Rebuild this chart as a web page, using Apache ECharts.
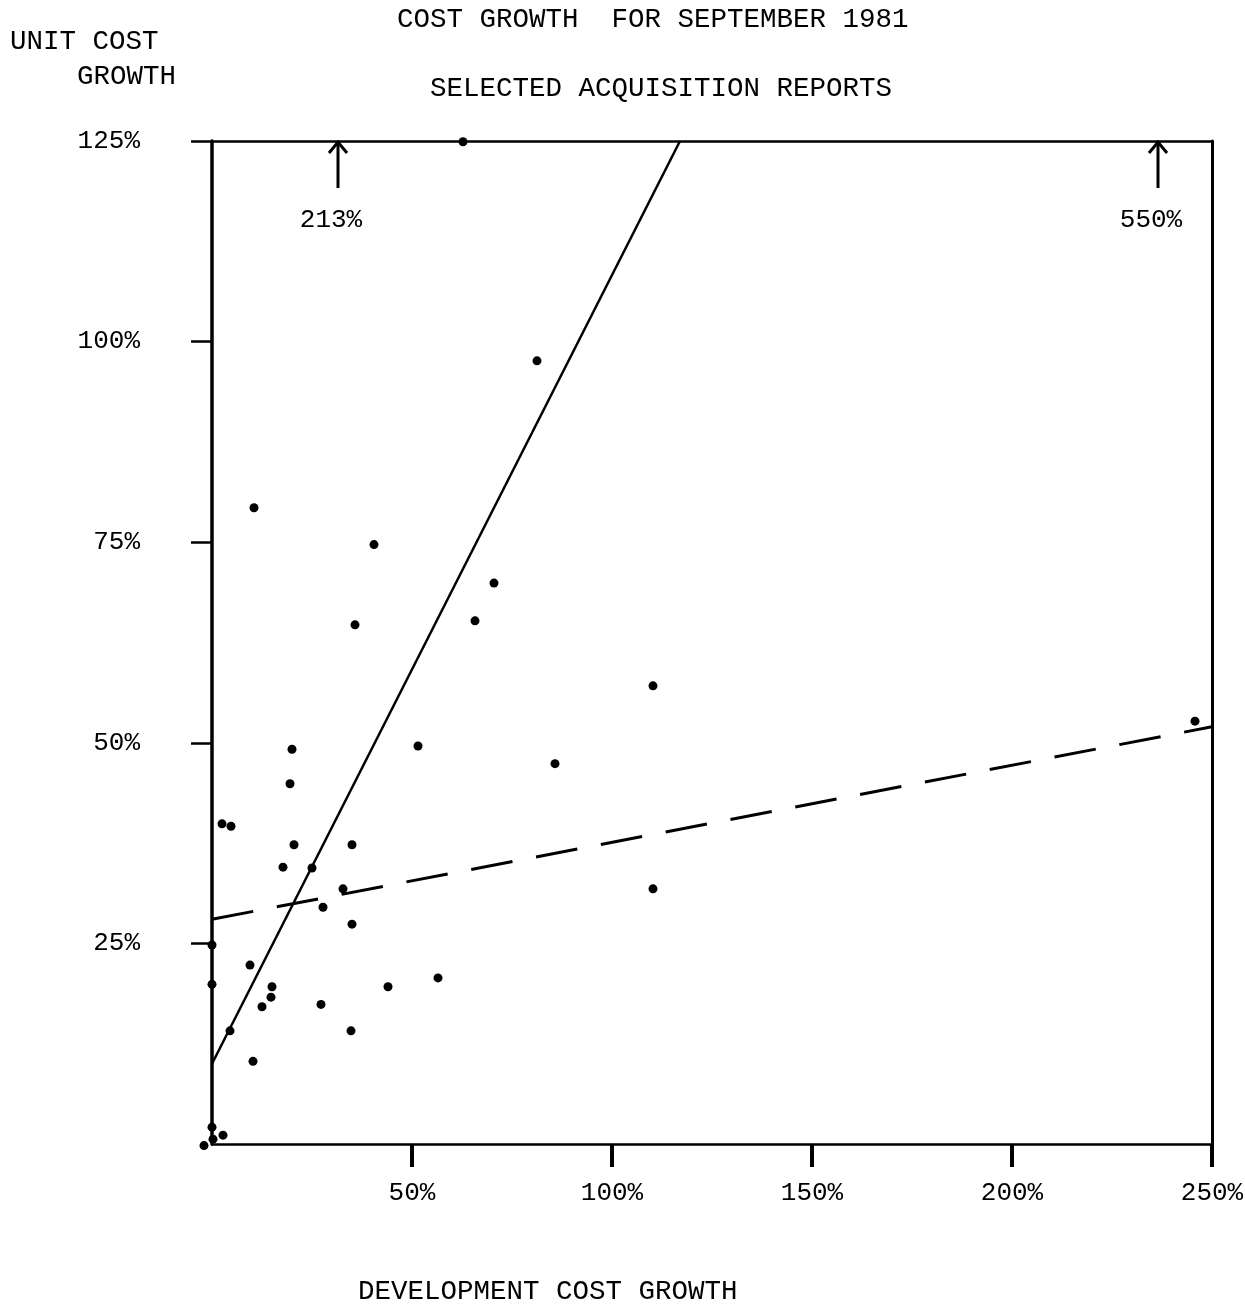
<!DOCTYPE html>
<html><head><meta charset="utf-8">
<script src="https://cdn.jsdelivr.net/npm/echarts@6/dist/echarts.min.js"></script>
<style>html,body{margin:0;padding:0;background:#fff}#c{width:1245px;height:1306px}</style>
</head><body><div id="c"></div>
<script>
// Development cost growth (%) and unit cost growth (%) for each report
const devGrowth  = [62.75, 81.25, 10.5, 40.5, 70.5, 65.75, 35.75, 110.25, 245.75, 51.5,
                    20, 85.75, 19.5, 2.5, 4.75, 20.5, 35, 17.75, 25, 32.75,
                    110.25, 27.75, 35, 0, 9.5, 0, 15, 14.75, 44, 56.5,
                    12.5, 27.25, 4.5, 34.75, 10.25, 0, 2.75, 0.25, -2];
const unitGrowth = [124.9, 97.6, 79.3, 74.7, 69.9, 65.2, 64.7, 57.1, 52.7, 49.6,
                    49.2, 47.4, 44.9, 39.9, 39.6, 37.3, 37.3, 34.5, 34.4, 31.8,
                    31.8, 29.5, 27.4, 24.8, 22.3, 19.9, 19.6, 18.3, 19.6, 20.7,
                    17.1, 17.4, 14.1, 14.1, 10.3, 2.1, 1.1, 0.6, -0.2];
// Off-scale reports (shown by arrows at the top edge)
const offscaleDev  = [31.5, 236.5];
const offscaleUnit = [213, 550];
// Fitted lines
const solidFitX  = [0, 117];
const solidFitY  = [10, 125];
const dashedFitX = [0, 250];
const dashedFitY = [28, 52];
// Axis ticks
const xTicks = [50, 100, 150, 200, 250];
const yTicks = [25, 50, 75, 100, 125];
const xMax = 250, yMax = 125;

const FONT = 'Liberation Mono';
const INK = '#000';

const pts = devGrowth.map((x, i) => [x, unitGrowth[i]]);
const solid = solidFitX.map((x, i) => [x, solidFitY[i]]);
const dashed = dashedFitX.map((x, i) => [x, dashedFitY[i]]);
const offs = offscaleDev.map((x, i) => [x, offscaleUnit[i]]);

const chart = echarts.init(document.getElementById('c'), null, {renderer: 'canvas'});
const titleStyle = {fontFamily: FONT, fontSize: 27.5, fontWeight: 'normal', color: INK, lineHeight: 28};
chart.setOption({
  animation: false,
  backgroundColor: '#fff',
  title: [
    {text: 'COST GROWTH  FOR SEPTEMBER 1981', left: 397, top: 6, padding: 0, textStyle: titleStyle},
    {text: 'SELECTED ACQUISITION REPORTS', left: 430, top: 75, padding: 0, textStyle: titleStyle},
    {text: 'UNIT COST', left: 10, top: 28, padding: 0, textStyle: titleStyle},
    {text: 'GROWTH', left: 77, top: 63, padding: 0, textStyle: titleStyle},
    {text: 'DEVELOPMENT COST GROWTH', left: 358, top: 1278, padding: 0, textStyle: titleStyle}
  ],
  grid: {left: 212, right: 33, top: 141, bottom: 162, containLabel: false, outerBoundsMode: 'none'},
  xAxis: [
    {type: 'value', min: 0, max: xMax, interval: 50, position: 'bottom',
     axisLine: {show: true, onZero: false, lineStyle: {color: INK, width: 2.5}},
     axisTick: {show: true, inside: false, length: 23, customValues: xTicks, lineStyle: {color: INK, width: 4}},
     axisLabel: {show: true, customValues: xTicks, margin: 36, formatter: v => v + '%',
       fontFamily: FONT, fontSize: 26, color: INK},
     splitLine: {show: false}},
    {type: 'value', min: 0, max: xMax, position: 'top',
     axisLine: {show: true, onZero: false, lineStyle: {color: INK, width: 2.5}},
     axisTick: {show: false}, axisLabel: {show: false}, splitLine: {show: false}}
  ],
  yAxis: [
    {type: 'value', min: 0, max: yMax, interval: 25, position: 'left',
     axisLine: {show: true, onZero: false, lineStyle: {color: INK, width: 3.5}},
     axisTick: {show: true, inside: false, length: 21, customValues: yTicks, lineStyle: {color: INK, width: 2.5}},
     axisLabel: {show: true, customValues: yTicks, margin: 72, formatter: v => v + '%',
       fontFamily: FONT, fontSize: 26, color: INK},
     splitLine: {show: false}},
    {type: 'value', min: 0, max: yMax, position: 'right',
     axisLine: {show: true, onZero: false, lineStyle: {color: INK, width: 3}},
     axisTick: {show: false}, axisLabel: {show: false}, splitLine: {show: false}}
  ],
  series: [
    {type: 'line', data: solid, showSymbol: false, symbol: 'none', clip: false,
     lineStyle: {color: INK, width: 2.5}, silent: true},
    {type: 'line', data: dashed, showSymbol: false, symbol: 'none', clip: false,
     lineStyle: {color: INK, width: 3, type: [42, 24]}, silent: true},
    {type: 'scatter', data: pts, symbol: 'circle', symbolSize: 9, clip: false,
     itemStyle: {color: INK, opacity: 1}},
    {type: 'custom', data: offs, clip: false, encode: {x: 0, y: 1},
     renderItem: function (params, api) {
       const p = api.coord([api.value(0), yMax]);
       const x = p[0], y = p[1];
       return {type: 'group', children: [
         {type: 'line', shape: {x1: x, y1: y, x2: x, y2: y + 47}, style: {stroke: INK, lineWidth: 3}},
         {type: 'polyline', shape: {points: [[x - 9, y + 12], [x, y + 1], [x + 9, y + 12]]},
          style: {stroke: INK, lineWidth: 3, fill: null}},
         {type: 'text', style: {text: api.value(1) + '%', x: x - 7, y: y + 79, align: 'center',
          verticalAlign: 'middle', font: '26px "' + FONT + '"', fill: INK}}
       ]};
     }}
  ]
});
</script>
</body></html>
